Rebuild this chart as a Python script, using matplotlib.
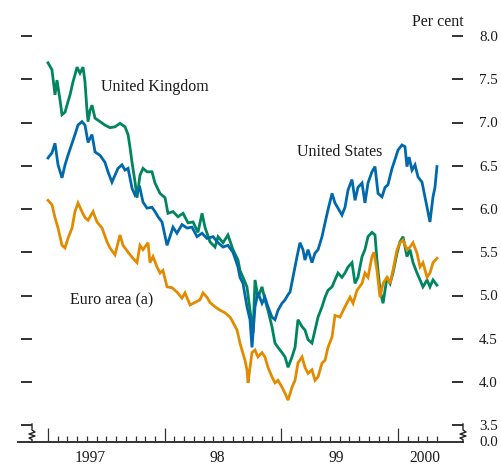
import matplotlib
matplotlib.use('Agg')
import matplotlib.pyplot as plt
import matplotlib.transforms as mtransforms

# ---------------- data ----------------
uk_date = [1997.000,1997.034,1997.060,1997.077,1997.103,1997.120,1997.146,1997.171,1997.189,1997.214,
           1997.231,1997.249,1997.274,1997.300,1997.317,1997.334,1997.343,1997.360,1997.377,1997.403,
           1997.446,1997.488,1997.531,1997.574,1997.617,1997.660,1997.686,1997.703,1997.720,1997.746,
           1997.763,1997.788,1997.814,1997.848,1997.891,1997.917,1997.960,1998.003,1998.028,1998.071,
           1998.114,1998.157,1998.200,1998.243,1998.285,1998.320,1998.345,1998.388,1998.431,1998.457,
           1998.500,1998.542,1998.585,1998.628,1998.645,1998.671,1998.705,1998.731,1998.757,1998.774,
           1998.799,1998.834,1998.859,1998.885,1998.919,1998.945,1998.971,1999.005,1999.031,1999.057,
           1999.091,1999.117,1999.142,1999.177,1999.202,1999.228,1999.262,1999.288,1999.314,1999.348,
           1999.374,1999.399,1999.434,1999.459,1999.485,1999.519,1999.545,1999.571,1999.605,1999.631,
           1999.656,1999.691,1999.716,1999.742,1999.776,1999.802,1999.819,1999.845,1999.871,1999.905,
           1999.931,1999.956,1999.991,2000.016,2000.042,2000.076,2000.102,2000.128,2000.162,2000.188,
           2000.213,2000.248,2000.273,2000.299,2000.333]
uk_yield = [7.69,7.61,7.32,7.49,7.26,7.09,7.12,7.24,7.32,7.47,
            7.55,7.64,7.57,7.64,7.47,7.14,7.01,7.14,7.20,7.05,
            7.01,6.97,6.94,6.95,6.99,6.95,6.86,6.71,6.54,6.31,
            6.13,6.39,6.47,6.43,6.43,6.30,6.18,6.13,5.95,5.97,
            5.91,5.95,5.84,5.85,5.73,5.95,5.79,5.62,5.56,5.68,
            5.61,5.70,5.53,5.41,5.29,5.21,5.10,4.83,4.57,5.18,
            4.98,5.10,4.95,4.83,4.64,4.45,4.40,4.34,4.29,4.17,
            4.29,4.40,4.72,4.64,4.60,4.49,4.45,4.60,4.75,4.87,
            4.98,5.06,5.10,5.18,5.26,5.21,5.26,5.33,5.38,5.14,
            5.21,5.45,5.53,5.68,5.73,5.70,5.41,5.06,4.91,5.21,
            5.14,5.26,5.49,5.62,5.68,5.45,5.53,5.38,5.26,5.18,
            5.10,5.18,5.10,5.18,5.12]

us_date = [1997.000,1997.034,1997.060,1997.086,1997.120,1997.146,1997.171,1997.206,1997.231,1997.257,
           1997.291,1997.317,1997.343,1997.377,1997.403,1997.446,1997.488,1997.514,1997.548,1997.574,
           1997.600,1997.634,1997.660,1997.686,1997.720,1997.746,1997.788,1997.814,1997.848,1997.891,
           1997.917,1997.943,1997.977,1998.020,1998.045,1998.071,1998.105,1998.148,1998.191,1998.234,
           1998.277,1998.320,1998.362,1998.414,1998.457,1998.500,1998.542,1998.585,1998.628,1998.645,
           1998.671,1998.705,1998.731,1998.748,1998.774,1998.799,1998.834,1998.859,1998.885,1998.919,
           1998.945,1998.971,1999.005,1999.031,1999.057,1999.074,1999.099,1999.134,1999.159,1999.185,
           1999.202,1999.228,1999.262,1999.288,1999.314,1999.348,1999.374,1999.399,1999.434,1999.459,
           1999.485,1999.519,1999.545,1999.571,1999.605,1999.631,1999.656,1999.691,1999.716,1999.742,
           1999.776,1999.802,1999.828,1999.862,1999.888,1999.913,1999.948,1999.973,1999.999,2000.033,
           2000.059,2000.076,2000.094,2000.119,2000.145,2000.171,2000.205,2000.230,2000.248,2000.273,
           2000.299,2000.316,2000.333]
us_yield = [6.59,6.65,6.76,6.51,6.36,6.51,6.62,6.76,6.86,6.97,
            7.01,6.97,6.77,6.86,6.66,6.62,6.54,6.43,6.31,6.39,
            6.47,6.51,6.45,6.47,6.24,6.16,6.24,6.08,6.01,6.02,
            5.97,5.91,5.85,5.58,5.68,5.79,5.72,5.82,5.78,5.79,
            5.68,5.72,5.66,5.68,5.61,5.56,5.58,5.50,5.33,5.21,
            5.14,4.87,4.72,4.40,4.87,5.03,4.91,4.98,4.87,4.75,
            4.72,4.83,4.91,4.95,5.01,5.04,5.21,5.45,5.61,5.53,
            5.41,5.53,5.38,5.49,5.53,5.68,5.84,5.99,6.18,6.07,
            6.01,5.93,6.02,6.22,6.34,6.10,6.25,6.30,6.07,6.30,
            6.43,6.49,6.18,6.14,6.25,6.28,6.47,6.57,6.68,6.74,
            6.72,6.49,6.60,6.45,6.51,6.37,6.31,6.14,6.02,5.85,
            6.14,6.25,6.49]

euro_date = [1997.000,1997.034,1997.060,1997.086,1997.120,1997.146,1997.171,1997.206,1997.231,1997.257,
             1997.291,1997.317,1997.343,1997.386,1997.420,1997.463,1997.506,1997.531,1997.574,1997.617,
             1997.643,1997.686,1997.728,1997.763,1997.788,1997.814,1997.857,1997.874,1997.900,1997.934,
             1997.960,1997.985,1998.020,1998.063,1998.105,1998.148,1998.174,1998.217,1998.260,1998.302,
             1998.328,1998.362,1998.388,1998.431,1998.474,1998.517,1998.560,1998.585,1998.620,1998.645,
             1998.662,1998.688,1998.705,1998.714,1998.748,1998.774,1998.799,1998.834,1998.859,1998.885,
             1998.919,1998.945,1998.971,1999.005,1999.031,1999.057,1999.091,1999.117,1999.142,1999.177,
             1999.202,1999.228,1999.262,1999.288,1999.314,1999.348,1999.374,1999.399,1999.434,1999.459,
             1999.502,1999.545,1999.588,1999.614,1999.648,1999.691,1999.716,1999.742,1999.776,1999.793,
             1999.819,1999.845,1999.871,1999.905,1999.931,1999.956,1999.991,2000.016,2000.042,2000.076,
             2000.102,2000.128,2000.162,2000.188,2000.213,2000.248,2000.273,2000.299,2000.333]
euro_yield = [6.10,6.05,5.90,5.78,5.58,5.55,5.66,5.78,5.97,6.07,
              5.97,5.90,5.87,5.97,5.85,5.78,5.62,5.55,5.47,5.70,
              5.58,5.50,5.43,5.38,5.58,5.53,5.61,5.38,5.45,5.33,
              5.26,5.29,5.10,5.09,5.04,4.97,5.03,4.89,4.92,4.95,
              5.03,4.98,4.92,4.87,4.83,4.80,4.75,4.69,4.60,4.45,
              4.37,4.25,4.14,3.99,4.34,4.37,4.29,4.34,4.29,4.17,
              4.06,3.99,4.02,3.94,3.87,3.79,3.94,4.02,4.22,4.29,
              4.17,4.10,4.14,4.02,4.06,4.22,4.25,4.40,4.52,4.77,
              4.75,4.87,4.98,4.91,5.06,5.14,5.26,5.21,5.45,5.50,
              5.29,4.98,5.14,5.21,5.14,5.29,5.53,5.61,5.64,5.53,
              5.56,5.61,5.49,5.33,5.38,5.21,5.26,5.38,5.43]

series_names = ["United Kingdom", "United States", "Euro area (a)"]
ytick_values = [3.5, 4.0, 4.5, 5.0, 5.5, 6.0, 6.5, 7.0, 7.5, 8.0]
ytick_labels = ["3.5", "4.0", "4.5", "5.0", "5.5", "6.0", "6.5", "7.0", "7.5", "8.0"]
axis_floor_label = "0.0"
year_starts = [1997, 1998, 1999, 2000]
year_labels = ["1997", "98", "99", "2000"]
unit_label = "Per cent"

# ---------------- styling ----------------
W, H, DPI = 501, 466, 100
GREEN = "#00855f"
BLUE = "#0069ad"
ORANGE = "#e38b00"
TXT = "#1a1a1a"
FONT = ["Liberation Serif", "DejaVu Serif"]
plt.rcParams["font.family"] = FONT

fig = plt.figure(figsize=(W / DPI, H / DPI), dpi=DPI)

# axes frame in pixels: x 18..463, y 36 (top, 8.0) .. 442 (bottom axis line)
L, R, T, B = 18, 463, 36, 442
ax = fig.add_axes([L / W, (H - B) / H, (R - L) / W, (B - T) / H])
ax.patch.set_alpha(0)

px_per_year = 116.7
x0 = 1997.0 - (48 - L) / px_per_year
x1 = 1997.0 + (R - 48) / px_per_year
ax.set_xlim(x0, x1)
px_per_unit = 86.5
ax.set_ylim(8.0 - (B - T) / px_per_unit, 8.0)

lw = 2.0
ax.plot(uk_date, uk_yield, color=GREEN, lw=lw, solid_joinstyle="miter", zorder=3)
ax.plot(euro_date, euro_yield, color=ORANGE, lw=lw, solid_joinstyle="miter", zorder=4)
ax.plot(us_date, us_yield, color=BLUE, lw=lw, solid_joinstyle="miter", zorder=5)

for s in ["right", "top"]:
    ax.spines[s].set_visible(False)
ax.spines["left"].set_visible(False)
ax.spines["left"].set_position(("axes", 3 / (R - L)))
ax.spines["bottom"].set_linewidth(1.4)
ax.spines["bottom"].set_color("#333333")

# x ticks: majors at year starts, minors monthly
ax.set_xticks(year_starts)
minor = [1997 + k / 12 for k in range(1, 41) if k % 12 != 0]
ax.set_xticks(minor, minor=True)
ax.tick_params(axis="x", which="major", direction="in", length=10, width=0.9,
               color="#333333", labelbottom=False)
ax.tick_params(axis="x", which="minor", direction="in", length=4.3, width=0.9,
               color="#333333", labelbottom=False)
xtrans = mtransforms.blended_transform_factory(ax.transData, fig.transFigure)
label_x = [1997.36, 1998.448, 1999.468, 2000.23]
for xv, lab in zip(label_x, year_labels):
    ax.text(xv, 1 - 457.5 / H, lab, transform=xtrans, ha="center", va="center",
            fontsize=11.2, color=TXT)

# y ticks: short dashes on both sides, labels on right
ax.set_yticks(ytick_values)
ax.set_yticklabels(ytick_labels)
ax.tick_params(axis="y", which="both", left=True, right=True, labelleft=False,
               labelright=True, direction="in", length=8.0, width=1.3,
               color="#222222", pad=11.5, labelsize=10.8, labelcolor=TXT)
ax.text(1.0 + 16 / (R - L), 0.0, axis_floor_label, transform=ax.transAxes,
        ha="left", va="center", fontsize=10.8, color=TXT)

# axis-break zigzags (decoration) from 3.5 down to the bottom axis line
def zigzag(xpx):
    ys = [424, 430, 432, 434, 436, 438, 439.5, 442]
    dx = [0, 0, 3, -3, 3, -3, 0, 0]
    xs = [(xpx + d) / W for d in dx]
    yy = [1 - y / H for y in ys]
    fig.add_artist(plt.Line2D(xs, yy, color="#222222", lw=1.0,
                              transform=fig.transFigure))

zigzag(32)
zigzag(463)

# text labels
fs = 11.5
fig.text(464 / W, 1 - 22 / H, unit_label, ha="right", va="center", fontsize=fs, color=TXT)
fig.text(101 / W, 1 - 87 / H, series_names[0], ha="left", va="center", fontsize=fs, color=TXT)
fig.text(297 / W, 1 - 152 / H, series_names[1], ha="left", va="center", fontsize=fs, color=TXT)
fig.text(70 / W, 1 - 300 / H, series_names[2], ha="left", va="center", fontsize=fs, color=TXT)

fig.savefig("out.png", dpi=DPI)
